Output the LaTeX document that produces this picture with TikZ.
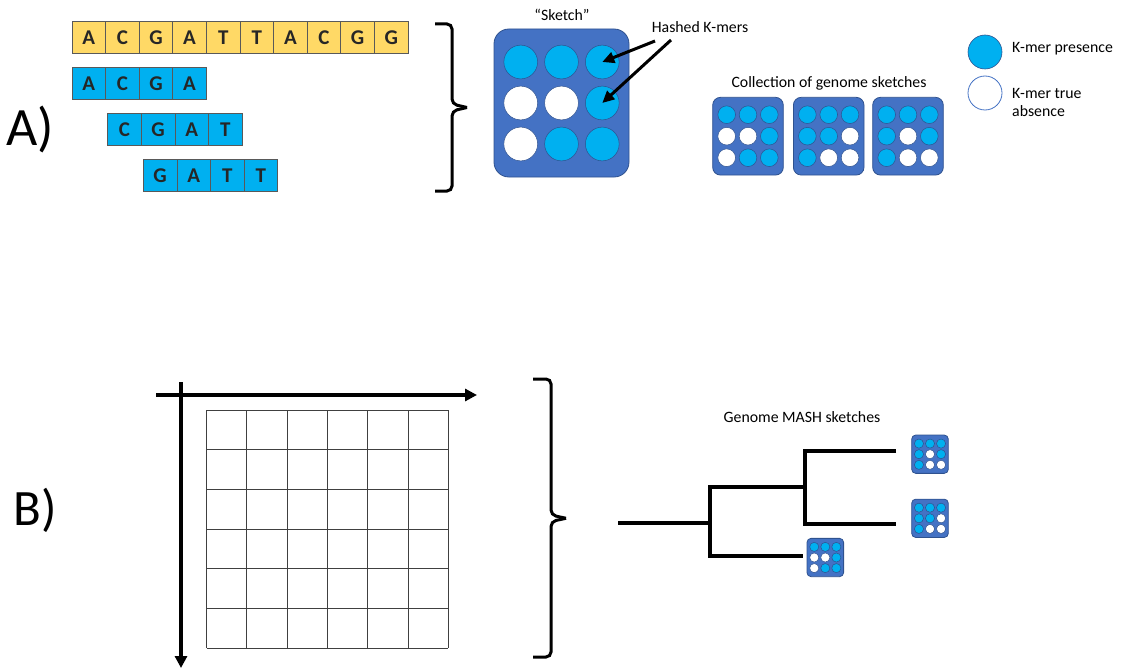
\documentclass[tikz,border=0pt]{standalone}
\usepackage{fontspec}
\setmainfont{Carlito}
\usetikzlibrary{arrows.meta}
\usetikzlibrary{calc}

\definecolor{sketchblue}{HTML}{4472C4}
\definecolor{sketchedge}{HTML}{2F528F}
\definecolor{kmerb}{HTML}{00B0F0}
\definecolor{kmerw}{HTML}{FFFFFF}
\definecolor{seqgold}{HTML}{FFD966}

\tikzset{
  sketchbox/.style={draw=sketchedge, line width=0.8pt, fill=sketchblue, inner sep=0pt, outer sep=0pt},
  kmer/.style={circle, draw=sketchedge, line width=0.5pt, inner sep=0pt, outer sep=0pt},
  seqcell/.style={draw=black!65, line width=0.8pt, minimum width=33.6pt, minimum height=32pt,
    inner sep=0pt, font=\fontsize{21}{21}\selectfont\bfseries, text=black!85},
  textlbl/.style={font=\fontsize{15.8}{18}\selectfont, inner sep=1pt},
  hasharrow/.style={line width=3pt, -{Triangle[length=12pt,width=11pt]}},
  axisarrow/.style={line width=4pt, -{Triangle[length=12pt,width=12pt]}},
  brace/.style={line width=3pt, rounded corners=5pt},
  branch/.style={line width=4pt, line join=miter},
  gridline/.style={line width=1pt, draw=black!75},
}

% sketch: name, centre x, centre y, width, height, 9 k-mers (b/w)
\newcommand{\genomesketch}[6]{%
  \node[sketchbox, minimum width=#4pt, minimum height=#5pt, rounded corners={0.11*#4}] (#1) at (#2,#3) {};
  \foreach \kc [count=\i from 0] in {#6} {
    \pgfmathsetmacro{\kx}{#2+0.302*#4*(mod(\i,3)-1)}
    \pgfmathsetmacro{\ky}{#3+0.277*#5*(floor(\i/3)-1)}
    \node[kmer, fill=kmer\kc, minimum size={0.25*#4}] (#1-\i) at (\kx,\ky) {};
  }
}

\begin{document}
\begin{tikzpicture}[x=1pt,y=-1pt,line cap=butt]
\useasboundingbox (0,0) rectangle (1125,669);

% A) k-mers
\node[font=\fontsize{54}{60}\selectfont, anchor=base] (lblA) at (30,145) {A)};
\foreach \b [count=\i from 0] in {A,C,G,A,T,T,A,C,G,G}
  \node[seqcell, fill=seqgold] (seq-\i) at ({88.8+33.6*\i},37.5) {\b};
\foreach \b [count=\i from 0] in {A,C,G,A}
  \node[seqcell, fill=kmerb] (ka-\i) at ({88.8+33.6*\i},83.3) {\b};
\foreach \b [count=\i from 0] in {C,G,A,T}
  \node[seqcell, fill=kmerb] (kb-\i) at ({124.5+33.6*\i},129.5) {\b};
\foreach \b [count=\i from 0] in {G,A,T,T}
  \node[seqcell, fill=kmerb] (kc-\i) at ({160.1+33.6*\i},175.8) {\b};

\draw[brace] (435,24) -- (452,24) -- (452,104) -- (467,107.5);
\draw[brace] (467,107.5) -- (452,111) -- (452,191) -- (435,191);

% sketch
\node[textlbl] (sketchlbl) at (562,15) {``Sketch''};
\genomesketch{big}{561.5}{103}{135}{148}{b,b,b,w,w,b,w,b,b}
\node[textlbl] (hashed) at (700,27) {Hashed K-mers};
\coordinate (hs1) at (655,41);
\coordinate (hs2) at (671,40);
\draw[hasharrow] (hs1) -- (big-2.center);
\draw[hasharrow] (hs2) -- (big-5.center);

\node[textlbl] (coll) at (829,83) {Collection of genome sketches};
\genomesketch{col1}{748}{136.2}{70.6}{77.7}{b,b,b,w,w,b,w,b,b}
\genomesketch{col2}{828.7}{136.2}{70.6}{77.7}{b,b,b,b,b,w,b,w,w}
\genomesketch{col3}{908}{136.2}{70.6}{77.7}{b,b,b,b,w,b,b,w,w}

% legend
\node[circle, draw=sketchedge, line width=0.6pt, fill=kmerb, minimum size=34pt, inner sep=0pt] (legb) at (985,52) {};
\node[circle, draw=sketchblue, line width=0.8pt, fill=white, minimum size=34pt, inner sep=0pt] (legw) at (985,93) {};
\node[textlbl, anchor=west] (legbtxt) at (1011,49) {K-mer presence};
\node[textlbl, anchor=west, align=left] (legwtxt) at (1011,102) {K-mer true\\absence};

% B) distance matrix
\node[font=\fontsize{51}{60}\selectfont, anchor=base] (lblB) at (35,525) {B)};
\coordinate (ax0) at (156,395);
\coordinate (ax1) at (477,395);
\coordinate (ay0) at (181,382);
\coordinate (ay1) at (181,668);
\draw[axisarrow] (ax0) -- (ax1);
\draw[axisarrow] (ay0) -- (ay1);
\foreach \k in {0,...,6} {
  \draw[gridline] ({206.7+40.27*\k},410) -- ++(0,238.3);
  \draw[gridline] (206.7,{410+39.72*\k}) -- ++(241.6,0);
}

\draw[brace] (533,379) -- (551,379) -- (551,515) -- (566,518.3);
\draw[brace] (566,518.3) -- (551,521.5) -- (551,657) -- (533,657);

% tree
\node[textlbl] (mashlbl) at (802,417) {Genome MASH sketches};
\genomesketch{leafa}{930}{454.2}{36.6}{38.3}{b,b,b,b,w,b,b,w,w}
\genomesketch{leafb}{930}{518.3}{36.6}{38.3}{b,b,b,b,b,w,b,w,w}
\genomesketch{leafc}{825.3}{557.5}{36.6}{38.3}{b,b,b,w,w,b,w,b,b}
\coordinate (root) at (618,522.7);
\coordinate (ja) at (710,522.7);
\coordinate (jb) at (805,486.7);
\coordinate (enda) at (896,450.7);
\coordinate (endb) at (896,524);
\coordinate (endc) at (803,556);
\draw[branch] (root) -- (ja);
\draw[branch] (jb) -| (ja) |- (endc);
\draw[branch] (enda) -| (jb) |- (endb);
\end{tikzpicture}
\end{document}
